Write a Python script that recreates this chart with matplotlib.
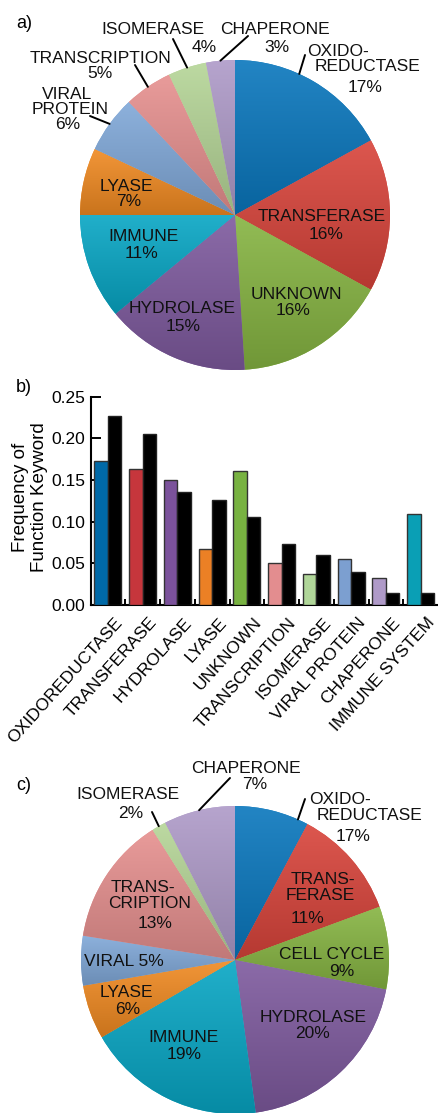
import numpy as np
import matplotlib
matplotlib.use("Agg")
import matplotlib.pyplot as plt
import matplotlib.transforms as mtransforms
from matplotlib.colors import to_rgb

plt.rcParams['font.family'] = ['Liberation Sans', 'DejaVu Sans']

# ---------------- data ----------------
# panel a
cats_a = ["OXIDOREDUCTASE", "TRANSFERASE", "UNKNOWN", "HYDROLASE", "IMMUNE",
          "LYASE", "VIRAL PROTEIN", "TRANSCRIPTION", "ISOMERASE", "CHAPERONE"]
vals_a = [17, 16, 16, 15, 11, 7, 6, 5, 4, 3]
labels_a = ["OXIDO-\nREDUCTASE\n17%", "TRANSFERASE\n16%", "UNKNOWN\n16%",
            "HYDROLASE\n15%", "IMMUNE\n11%", "LYASE\n7%", "VIRAL\nPROTEIN\n6%",
            "TRANSCRIPTION\n5%", "ISOMERASE\n4%", "CHAPERONE\n3%"]
colors_a = ["#0A77BD", "#D8443B", "#86B442", "#7E5A9E", "#08A6C4",
            "#F08A22", "#80A8D8", "#E6908F", "#B5D597", "#AE9AC8"]

# panel b
cats_b = ["OXIDOREDUCTASE", "TRANSFERASE", "HYDROLASE", "LYASE", "UNKNOWN",
          "TRANSCRIPTION", "ISOMERASE", "VIRAL PROTEIN", "CHAPERONE", "IMMUNE SYSTEM"]
freq_set = [0.173, 0.163, 0.1495, 0.0675, 0.161, 0.0507, 0.037, 0.0548, 0.0328, 0.1095]
freq_ref = [0.227, 0.205, 0.1355, 0.1255, 0.106, 0.073, 0.060, 0.0396, 0.0148, 0.0148]
colors_b = ["#0069A7", "#C6363C", "#7B529B", "#EB8025", "#78B241",
            "#E38D8F", "#B0D699", "#7C9FD0", "#AF9AC8", "#0A9FB5"]
yticks_b = [0.00, 0.05, 0.10, 0.15, 0.20, 0.25]

# panel c
cats_c = ["OXIDOREDUCTASE", "TRANSFERASE", "CELL CYCLE", "HYDROLASE", "IMMUNE",
          "LYASE", "VIRAL", "TRANSCRIPTION", "ISOMERASE", "CHAPERONE"]
vals_c = [7.8, 11.6, 8.7, 19.8, 18.8, 5.7, 5.2, 13.5, 1.5, 7.5]
labels_c = ["OXIDO-\nREDUCTASE\n17%", "TRANS-\nFERASE\n11%", "CELL CYCLE\n9%",
            "HYDROLASE\n20%", "IMMUNE\n19%", "LYASE\n6%", "VIRAL 5%",
            "TRANS-\nCRIPTION\n13%", "ISOMERASE\n2%", "CHAPERONE\n7%"]
colors_c = ["#0A77BD", "#D8443B", "#86B442", "#7E5A9E", "#08A6C4",
            "#F08A22", "#80A8D8", "#E6908F", "#B5D597", "#AE9AC8"]

# ---------------- layout (pixels, origin top-left) ----------------
W, H = 438, 1113
pos_a = [[(338, 50), (367, 65), (365, 86)], [(322, 215), (326, 233)],
         [(296, 293), (293, 309)], [(182, 307), (183, 325)],
         [(143, 235), (142, 252)], [(126, 185), (129, 200)],
         [(67, 93), (70, 108), (68, 123)], [(100, 57), (100, 72)],
         [(153, 27.5), (204, 46)], [(275, 27.5), (277, 46)]]
lead_a = {0: (0.6, (305, 55)), 6: (0.5, (90, 116)), 7: (0.5, (135, 65)),
          8: (0.5, (173, 39)), 9: (0.5, (248, 36))}
pos_c = [[(340, 798), (369, 814), (353, 835)], [(323, 878), (320, 894), (307, 917)],
         [(332, 953), (342, 970)], [(313, 1016), (313, 1032)],
         [(184, 1036), (184, 1053)], [(126, 991), (128, 1008)],
         [(124, 960)], [(143, 886), (150, 902), (155, 922)],
         [(128, 793), (131, 812)], [(246, 767), (255, 783)]]
lead_c = {0: (0.14, (305, 799)), 8: (0.5, (152, 812)), 9: (0.5, (230, 778))}

FS = 12.5
CAP = 0.716 * FS * 100 / 72.0

fig = plt.figure(figsize=(W / 100, H / 100), dpi=100)
pix = mtransforms.Affine2D().scale(1.0 / W, -1.0 / H).translate(0, 1) + fig.transFigure


def lighten(c, f):
    c = np.array(to_rgb(c))
    return c + (1 - c) * f


def darken(c, f):
    return np.array(to_rgb(c)) * f


def pie_panel(cx, cy, R, vals, colors, labels, positions, leaders):
    m = 1.03
    side = 2 * R * m
    ax = fig.add_axes([(cx - R * m) / W, (H - cy - R * m) / H, side / W, side / H])
    wedges, _ = ax.pie(vals, colors=colors, startangle=90, counterclock=False,
                       radius=1, wedgeprops=dict(linewidth=0))
    for w, c in zip(wedges, colors):
        x0, y0, x1, y1 = w.get_path().get_extents().extents
        n = 64
        t = np.linspace(0, 1, n)[:, None]
        top = lighten(c, 0.10)
        bot = darken(c, 0.84)
        img = (top[None, :] * (1 - t) + bot[None, :] * t)[:, None, :]
        im = ax.imshow(img, extent=(x0, x1, y0, y1), origin='upper',
                       aspect='auto', interpolation='bilinear', zorder=2)
        im.set_clip_path(w)
    ax.set_aspect('auto')
    ax.set_xlim(-m, m)
    ax.set_ylim(-m, m)
    ax.axis('off')
    for lab, pts in zip(labels, positions):
        for line, (x, y) in zip(lab.split("\n"), pts):
            fig.text(x, y + CAP / 2, line, transform=pix, ha='center',
                     va='baseline', fontsize=FS, color='#111111', zorder=5)
    for i, (f, (lx, ly)) in leaders.items():
        w = wedges[i]
        ang = np.deg2rad(w.theta1 + f * (w.theta2 - w.theta1))
        ax.annotate('', xy=(np.cos(ang), np.sin(ang)), xycoords='data',
                    xytext=(lx, ly), textcoords=pix,
                    arrowprops=dict(arrowstyle='-', lw=1.4, color='black',
                                    shrinkA=0, shrinkB=0), zorder=6)
    return ax


pie_panel(235, 215, 155, vals_a, colors_a, labels_a, pos_a, lead_a)
pie_panel(235, 960, 154, vals_c, colors_c, labels_c, pos_c, lead_c)

# ---------------- bar panel ----------------
left, right, top, bottom = 90.5, 438, 396.7, 605
axb = fig.add_axes([left / W, (H - bottom) / H, (right - left) / W, (bottom - top) / H])
x = np.arange(len(cats_b))
bw = 0.39
axb.bar(x - bw / 2, freq_set, bw, color=colors_b, edgecolor='#333333', linewidth=1.0, zorder=3)
axb.bar(x + bw / 2, freq_ref, bw, color='black', edgecolor='#222222', linewidth=1.0, zorder=3)
axb.set_xlim(-0.5, len(cats_b) - 0.5)
axb.set_ylim(0, 0.25)
for s in ['top', 'right']:
    axb.spines[s].set_visible(False)
for s in ['left', 'bottom']:
    axb.spines[s].set_linewidth(1.5)
axb.set_yticks(yticks_b)
axb.set_yticklabels([f"{v:.2f}" for v in yticks_b], fontsize=12.5)
axb.tick_params(axis='y', direction='in', length=7, width=1.4, pad=4)
axb.set_xticks(x)
axb.set_xticklabels(cats_b, fontsize=12.6, rotation=48, ha='right', va='top',
                    rotation_mode='anchor')
axb.tick_params(axis='x', which='major', length=0, pad=5)
shift = mtransforms.ScaledTranslation(6 / 100, -3 / 100, fig.dpi_scale_trans)
for lbl in axb.get_xticklabels():
    lbl.set_transform(lbl.get_transform() + shift)
axb.set_xticks(np.arange(0.5, len(cats_b) - 0.5, 1), minor=True)
axb.tick_params(axis='x', which='minor', direction='in', length=4, width=1.4)
fig.text(30, 497, "Frequency of\nFunction Keyword", transform=pix, rotation=90,
         ha='center', va='center', fontsize=13.5, linespacing=1.15)

# panel letters
for s, (px_, py_) in zip(["a)", "b)", "c)"], [(24, 23), (24, 387), (24, 785)]):
    fig.text(px_, py_, s, transform=pix, ha='center', va='center', fontsize=13)

fig.savefig("out.png", dpi=100)
